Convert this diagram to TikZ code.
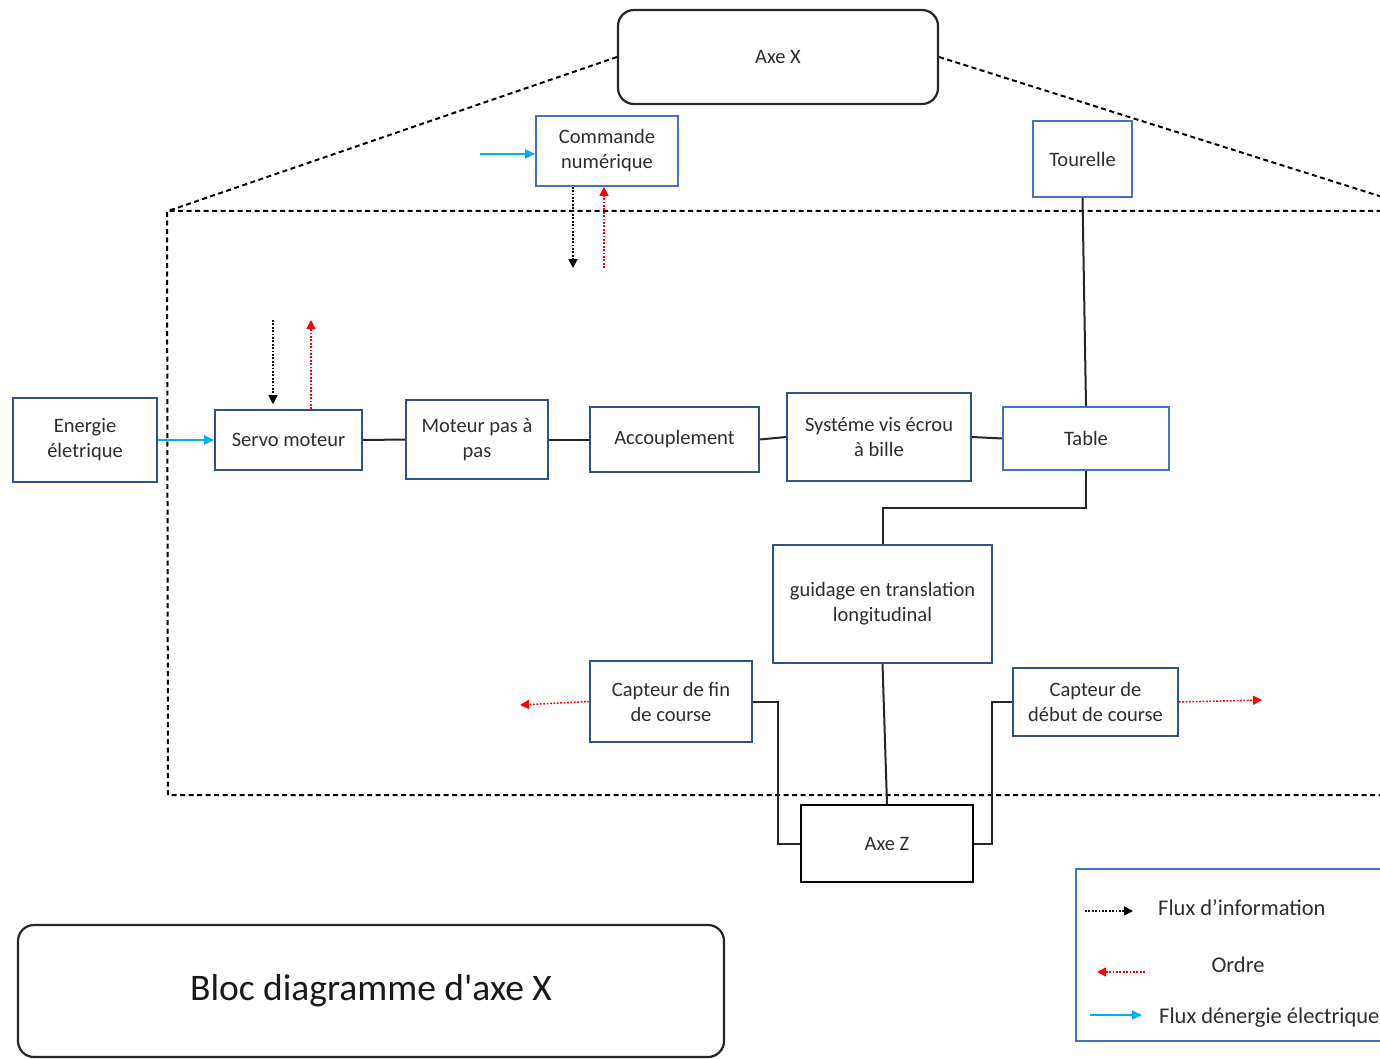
\documentclass[tikz,border=0pt]{standalone}
\usepackage{fontspec}
\setmainfont{Carlito}
\usetikzlibrary{arrows.meta,calc}
\definecolor{boxblue}{HTML}{2F528F}
\definecolor{lightblue}{HTML}{4472C4}
\definecolor{energy}{HTML}{00B0F0}
\definecolor{txt}{HTML}{2E2E2E}
\tikzset{
  block/.style={draw=boxblue, line width=1.6pt, fill=white, text=txt, align=center,
    font=\fontsize{20.5}{25}\selectfont, inner sep=2pt},
  lblock/.style={block, draw=lightblue},
  kblock/.style={block, draw=black},
  rblock/.style={draw=black!85, line width=2.2pt, rounded corners=16pt, fill=white, text=txt,
    align=center, font=\fontsize{20.5}{25}\selectfont},
  link/.style={draw=black!85, line width=2pt},
  frame/.style={draw=black, line width=2pt, dash pattern=on 5pt off 3.5pt},
  info/.style={draw=black, line width=1.5pt, dash pattern=on 1.8pt off 1.6pt,
    -{Triangle[length=9pt,width=9pt]}},
  order/.style={draw=red, line width=1.5pt, dash pattern=on 1.8pt off 1.6pt,
    -{Triangle[length=9pt,width=9pt]}},
  power/.style={draw=energy, line width=1.8pt, -{Triangle[length=10pt,width=9pt]}},
  legtext/.style={text=txt, font=\fontsize{22.5}{26}\selectfont, inner sep=0pt},
}
\begin{document}
\begin{tikzpicture}[x=1pt,y=-1pt]
\useasboundingbox (0,0) rectangle (1380,1059);
\clip (0,0) rectangle (1380,1059);
\fill[white] (0,0) rectangle (1380,1059);

% boundary of the X axis sub-system
\draw[frame] (1390,211) -- (167,211) -- (168,795) -- (1390,795);

% top level element
\node[rblock, minimum width=320pt, minimum height=94pt] (axex) at (778,57) {Axe X};
\draw[frame] (axex.west) -- (168,211);
\draw[frame] (axex.east) -- (1392,200);

% blocks
\node[lblock, minimum width=142pt, minimum height=70pt] (cmd) at (607,151) {Commande\\numérique};
\node[lblock, minimum width=99pt, minimum height=76pt] (tour) at (1082.5,159) {Tourelle};
\node[block, minimum width=144pt, minimum height=84pt] (ener) at (85,440) {Energie\\életrique};
\node[block, minimum width=147pt, minimum height=60pt] (servo) at (288.5,440) {Servo moteur};
\node[block, minimum width=142pt, minimum height=79pt] (mot) at (477,439.5) {Moteur pas à\\pas};
\node[block, minimum width=169pt, minimum height=65pt] (acc) at (674.5,439.5) {Accouplement};
\node[block, minimum width=184pt, minimum height=88pt] (vis) at (879,437) {Systéme vis écrou\\à bille};
\node[lblock, minimum width=166pt, minimum height=63pt] (table) at (1086,438.5) {Table};
\node[block, minimum width=219pt, minimum height=118pt] (guid) at (882.5,604) {guidage en translation\\longitudinal};
\node[kblock, minimum width=172pt, minimum height=77pt] (axez) at (887,843.5) {Axe Z};
\node[block, minimum width=162pt, minimum height=81pt] (cfin) at (671,701.5) {Capteur de fin\\de course};
\node[block, minimum width=165pt, minimum height=68pt] (cdeb) at (1095.5,702) {Capteur de\\début de course};

% mechanical links
\draw[link] (servo.east) -- (mot.west);
\draw[link] (mot.east) -- (acc.west);
\draw[link] (acc.east) -- (vis.west);
\draw[link] (vis.east) -- (table.west);
\draw[link] (tour.south) -- (table.north);
\draw[link] (table.south) |- ($(table.south)!0.5!(guid.north)$) -| (guid.north);
\draw[link] (guid.south) -- (axez.north);
\draw[link] (cfin.east) -- ++(25,0) |- (axez.west);
\draw[link] (cdeb.west) -- ++(-20,0) |- (axez.east);

% energy flows
\coordinate (cmdin) at (480,154);
\draw[power] (cmdin) -- (cmdin -| cmd.west);
\draw[power] (ener.east) -- (servo.west);

% information and order flows
\coordinate (cmdout) at (573,268);
\coordinate (cmdret) at (604,268);
\draw[info] (cmdout |- cmd.south) -- (cmdout);
\draw[order] (cmdret) -- (cmdret |- cmd.south);
\coordinate (servoin) at (273,320);
\coordinate (servoout) at (311,320);
\draw[info] (servoin) -- ($(servoin |- servo.north)+(0,-5)$);
\draw[order] (servoout |- servo.north) -- (servoout);
\coordinate (finout) at (520,705);
\coordinate (debout) at (1262,700);
\draw[order] (cfin.west) -- (finout);
\draw[order] (cdeb.east) -- (debout);

% legend
\node[draw=lightblue, line width=1.6pt, minimum width=320pt, minimum height=172pt, anchor=north west] (legend) at (1075,868) {};
\coordinate (l1a) at (1085,911);
\coordinate (l1b) at (1133,911);
\draw[info] (l1a) -- (l1b);
\node[legtext, anchor=west] (leginfo) at (1158,908) {Flux d’information};
\coordinate (l2a) at (1145,972);
\coordinate (l2b) at (1097,972);
\draw[order] (l2a) -- (l2b);
\node[legtext] (legorder) at (1238,965) {Ordre};
\coordinate (l3a) at (1090,1015);
\coordinate (l3b) at (1142,1015);
\draw[power] (l3a) -- (l3b);
\node[legtext, anchor=west] (legpower) at (1159,1018) {Flux dénergie électrique};

% caption
\node[rblock, minimum width=706pt, minimum height=132pt, text=black!90,
  font=\fontsize{37.5}{42}\selectfont] (bloc) at (371,991) {Bloc diagramme d\textquotesingle axe X};
\end{tikzpicture}
\end{document}
